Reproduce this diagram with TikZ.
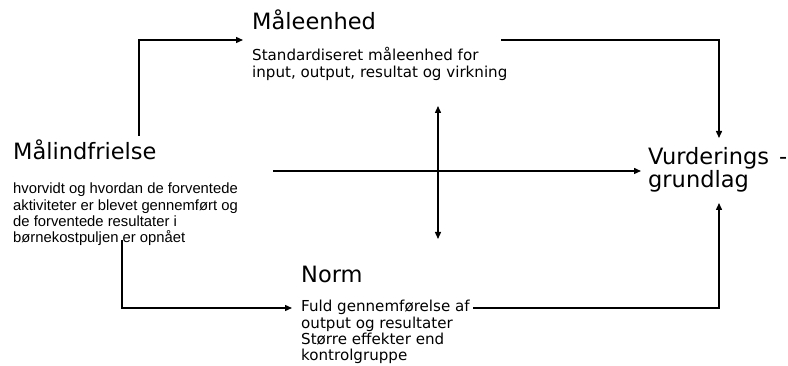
\documentclass[tikz,border=0pt]{standalone}
\usepackage{fontspec}
\setmainfont{DejaVu Sans}
\newfontfamily\arialfont{Liberation Sans}
\usetikzlibrary{arrows.meta}
\begin{document}
\begin{tikzpicture}[x=1pt,y=-1pt,
  head/.style={anchor=base west,inner sep=0pt,font=\fontsize{22.5}{23}\selectfont},
  body/.style={anchor=base west,inner sep=0pt,font=\fontsize{15.1}{16.2}\selectfont},
  arialbody/.style={anchor=base west,inner sep=0pt,font=\arialfont\fontsize{14.8}{16.3}\selectfont},
  conn/.style={line width=1.4pt,-{Triangle[length=7pt,width=6pt]}},
  dconn/.style={line width=1.4pt,{Triangle[length=7pt,width=6pt]}-{Triangle[length=7pt,width=6pt]}},
  plain/.style={line width=1.4pt}]
\useasboundingbox (0,0) rectangle (788,366);

% headings
\node[head] (malh) at (13,160) {Målindfrielse};
\node[head] (maaleh) at (252,30) {Måleenhed};
\node[head] (normh) at (301,283) {Norm};
\node[head] (vurd) at (648,165)
  {\vtop{\hbox{Vurderings\hspace{10pt}-}\hbox{grundlag}}};

% bodies
\node[arialbody] (malb) at (13,194)
  {\vtop{\hbox{hvorvidt og hvordan de forventede}\hbox{aktiviteter er blevet gennemført og}\hbox{de forventede resultater i}\hbox{børnekostpuljen er opnået}}};
\node[body] (maaleb) at (252,61)
  {\vtop{\hbox{Standardiseret måleenhed for}\hbox{input, output, resultat og virkning}}};
\node[body] (normb) at (301,312)
  {\vtop{\hbox{Fuld gennemførelse af}\hbox{output og resultater}\hbox{Større effekter end}\hbox{kontrolgruppe}}};

% connector points
\coordinate (a1) at (139,136);
\coordinate (a2) at (139,40);
\coordinate (a3) at (243,40);
\coordinate (b1) at (501,40);
\coordinate (b2) at (719,40);
\coordinate (b3) at (719,138);
\coordinate (c1) at (273,171);
\coordinate (c2) at (641,171);
\coordinate (d1) at (438,106);
\coordinate (d2) at (438,239);
\coordinate (e1) at (122,240);
\coordinate (e2) at (122,308);
\coordinate (e3) at (292,308);
\coordinate (f1) at (473,308);
\coordinate (f2) at (719,308);
\coordinate (f3) at (719,203);

\draw[conn] (a1) -- (a2) -- (a3);
\draw[conn] (b1) -- (b2) -- (b3);
\draw[conn] (c1) -- (c2);
\draw[dconn] (d1) -- (d2);
\draw[conn] (e1) -- (e2) -- (e3);
\draw[conn] (f1) -- (f2) -- (f3);
\end{tikzpicture}
\end{document}
